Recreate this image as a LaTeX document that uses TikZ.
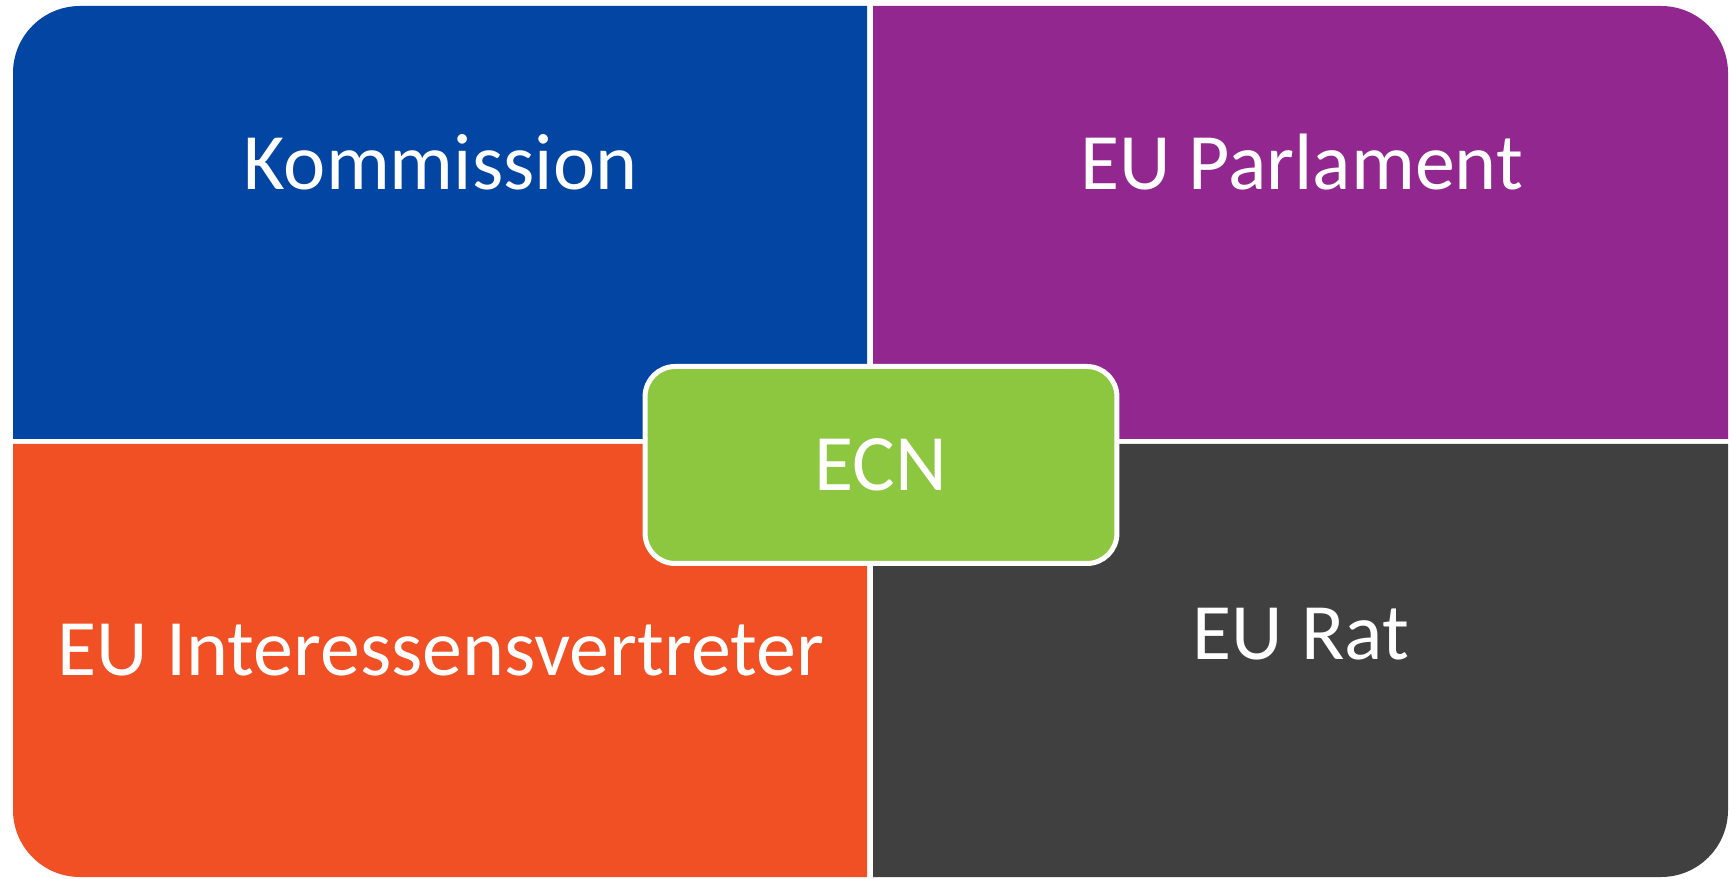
\documentclass[tikz,border=0pt]{standalone}
\usepackage{fontspec}
\setmainfont{Carlito}
\definecolor{kommblue}{RGB}{3,69,163}
\definecolor{parlpurple}{RGB}{146,39,143}
\definecolor{lobbyorange}{RGB}{240,80,35}
\definecolor{ratgrey}{RGB}{64,64,64}
\definecolor{ecngreen}{RGB}{141,198,63}
\begin{document}
\begin{tikzpicture}[x=0.5pt, y=0.5pt]
      \tikzset{
	  field/.style={text=white, font=\fontsize{40}{48}\selectfont, anchor=base, inner sep=0pt},
	  hub/.style={fill=ecngreen, draw=white, line width=2.5pt, rounded corners=15pt, text=white, font=\fontsize{40}{48}\selectfont, minimum width=235.9pt, minimum height=98.5pt, inner sep=0pt}
      }
      \fill[white] (0,0) rectangle (1729,878);
      \useasboundingbox (0,0) rectangle (1729,878);

      % the four fields, each with one rounded outer corner
      \fill[kommblue] (13,439) -- (13,805) arc[start angle=180, end angle=90, radius=67] -- (867,872) -- (867,439) -- cycle;
      \fill[parlpurple] (873,439) -- (873,872) -- (1661,872) arc[start angle=90, end angle=0, radius=67] -- (1728,439) -- cycle;
      \fill[lobbyorange] (867,434) -- (867,1) -- (80,1) arc[start angle=270, end angle=180, radius=67] -- (13,434) -- cycle;
      \fill[ratgrey] (873,434) -- (1728,434) -- (1728,68) arc[start angle=0, end angle=-90, radius=67] -- (873,1) -- cycle;

      \node[field] (kommission) at (440.5,688) {Kommission};
      \node[field] (parlament) at (1301.5,688) {EU Parlament};
      \node[field] (vertreter) at (441,202) {EU Interessensvertreter};
      \node[field] (rat) at (1301,218) {EU Rat};

      \node[hub] (ecn) at (881,413) {ECN};
\end{tikzpicture}
\end{document}
